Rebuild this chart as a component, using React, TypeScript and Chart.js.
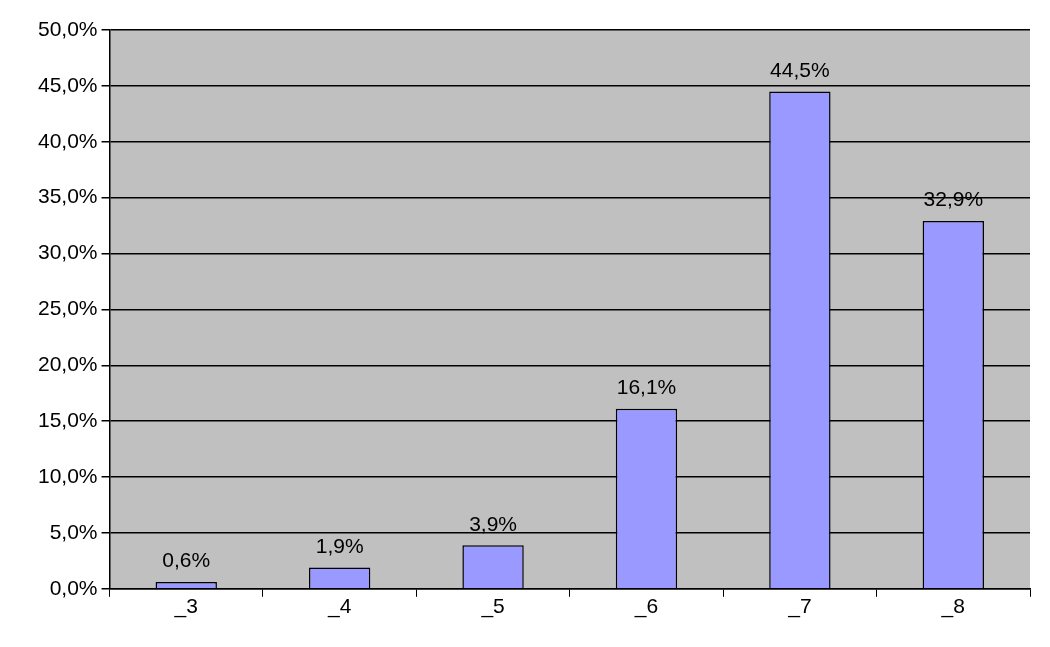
import { useEffect, useRef } from "react"
import { Chart, registerables } from "chart.js"

Chart.register(...registerables)

const categories = ["_3", "_4", "_5", "_6", "_7", "_8"]
const values = [0.6, 1.9, 3.9, 16.1, 44.5, 32.9]
const fmt = (v: number) => v.toFixed(1).replace(".", ",") + "%"

const bgPlugin = {
  id: "bg",
  beforeDraw(chart: any) {
    const { ctx, chartArea: a } = chart
    ctx.save()
    ctx.fillStyle = "#C0C0C0"
    ctx.fillRect(a.left, a.top, a.right - a.left, a.bottom - a.top)
    ctx.restore()
  },
}

const labelPlugin = {
  id: "labels",
  afterDatasetsDraw(chart: any) {
    const { ctx } = chart
    ctx.save()
    ctx.font = "21px 'Liberation Sans', Arial, sans-serif"
    ctx.fillStyle = "#000"
    ctx.textAlign = "center"
    ctx.textBaseline = "bottom"
    chart.getDatasetMeta(0).data.forEach((bar: any, i: number) => {
      ctx.fillText(fmt(values[i]), bar.x, bar.y - 10)
    })
    ctx.restore()
  },
}

export default function App() {
  const ref = useRef<HTMLCanvasElement>(null)
  useEffect(() => {
    document.body.style.margin = "0"
    const chart = new Chart(ref.current!, {
      type: "bar",
      data: {
        labels: categories,
        datasets: [
          {
            data: values,
            backgroundColor: "#9999FF",
            borderColor: "#000",
            borderWidth: 1.5,
            categoryPercentage: 1,
            barPercentage: 0.4,
          },
        ],
      },
      options: {
        animation: false,
        responsive: false,
        layout: { padding: { left: 34, right: 20, top: 30, bottom: 29 } },
        plugins: { legend: { display: false }, tooltip: { enabled: false } },
        scales: {
          x: {
            offset: true,
            grid: { offset: true, drawOnChartArea: false, color: "#000", tickLength: 8 },
            border: { color: "#000", width: 1.5 },
            ticks: { color: "#000", font: { size: 21, family: "'Liberation Sans', Arial" }, padding: -2 },
          },
          y: {
            min: 0,
            max: 50,
            ticks: {
              stepSize: 5,
              color: "#000",
              font: { size: 21, family: "'Liberation Sans', Arial" },
              callback: (v: any) => fmt(Number(v)),
              padding: 4,
            },
            grid: { color: "#000", lineWidth: 1.5, tickLength: 8 },
            border: { color: "#000", width: 1.5 },
          },
        },
      },
      plugins: [bgPlugin, labelPlugin],
    })
    return () => chart.destroy()
  }, [])
  return <canvas ref={ref} width={1050} height={647} style={{ display: "block", background: "#fff" }} />
}
